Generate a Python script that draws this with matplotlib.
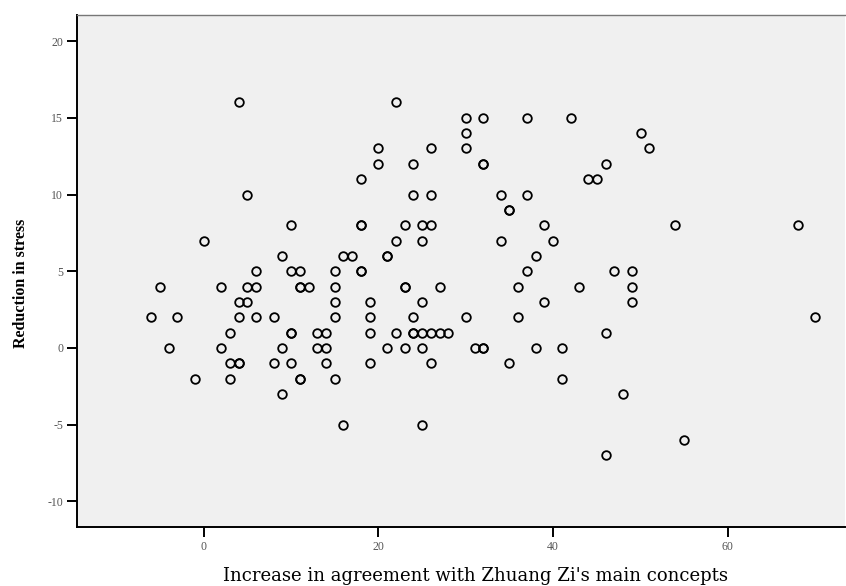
import matplotlib
matplotlib.use("Agg")
import matplotlib.pyplot as plt

plt.rcParams["axes.unicode_minus"] = False

# increase in agreement (x) and reduction in stress (y)
agreement = [
    4, 5, 0, 6, -5, 2, 5, 6, 4, 5, -6, -3, 4, 6, 8, 3, -4, 2, 3, 4, 4, 8, -1, 3,
    22, 20, 26, 20, 24, 18, 24, 26, 10, 18, 18, 23, 25, 26, 22, 25, 9, 16, 17, 21, 21,
    10, 11, 15, 18, 18, 11, 11, 12, 15, 23, 23, 27, 15, 19, 25, 15, 19, 24,
    10, 10, 13, 14, 19, 22, 24, 24, 25, 26, 27, 28, 9, 13, 14, 21, 23, 25,
    10, 14, 19, 26, 11, 11, 15, 9, 16, 25,
    30, 32, 37, 42, 30, 50, 30, 51, 32, 32, 46, 44, 45, 34, 37, 35, 35, 39, 34, 40,
    38, 37, 47, 49, 36, 43, 49, 39, 49, 30, 36, 46, 31, 32, 32, 38, 41, 35, 41, 48, 46,
    54, 68, 70, 55,
]
stress = [
    16, 10, 7, 5, 4, 4, 4, 4, 3, 3, 2, 2, 2, 2, 2, 1, 0, 0, -1, -1, -1, -1, -2, -2,
    16, 13, 13, 12, 12, 11, 10, 10, 8, 8, 8, 8, 8, 8, 7, 7, 6, 6, 6, 6, 6,
    5, 5, 5, 5, 5, 4, 4, 4, 4, 4, 4, 4, 3, 3, 3, 2, 2, 2,
    1, 1, 1, 1, 1, 1, 1, 1, 1, 1, 1, 1, 0, 0, 0, 0, 0, 0,
    -1, -1, -1, -1, -2, -2, -2, -3, -5, -5,
    15, 15, 15, 15, 14, 14, 13, 13, 12, 12, 12, 11, 11, 10, 10, 9, 9, 8, 7, 7,
    6, 5, 5, 5, 4, 4, 4, 3, 3, 2, 2, 1, 0, 0, 0, 0, 0, -1, -2, -3, -7,
    8, 8, 2, -6,
]

xticks = [0, 20, 40, 60]
yticks = [-10, -5, 0, 5, 10, 15, 20]

fig = plt.figure(figsize=(8.46, 5.86), dpi=100)
ax = fig.add_axes([77 / 846, 59 / 586, 768 / 846, 512 / 586])
ax.set_facecolor("#f0f0f0")

ax.plot(agreement, stress, linestyle="none", marker="o", markersize=6.2,
        markerfacecolor="none", markeredgecolor="black", markeredgewidth=1.3)

ax.set_xlim(-14.5, 73.4)
ax.set_ylim(-11.67, 21.7)
ax.set_xticks(xticks)
ax.set_yticks(yticks)

ax.tick_params(direction="out", length=7, width=1.4, color="black",
               labelsize=8.5, labelcolor="#555555", pad=3)
for lab in ax.get_xticklabels() + ax.get_yticklabels():
    lab.set_family("Liberation Serif")

ax.spines["left"].set_linewidth(1.4)
ax.spines["bottom"].set_linewidth(1.4)
ax.spines["top"].set_color("#777777")
ax.spines["top"].set_linewidth(1.0)
ax.spines["right"].set_visible(False)

fig.text(475 / 846, (586 - 576) / 586, "Increase in agreement with Zhuang Zi's main concepts",
         family="DejaVu Serif", fontsize=13, ha="center", va="center")
fig.text(21 / 846, (586 - 283) / 586, "Reduction in stress", family="Liberation Serif",
         fontsize=11.5, weight="bold", rotation=90, ha="center", va="center")

fig.savefig("out.png", dpi=100)
